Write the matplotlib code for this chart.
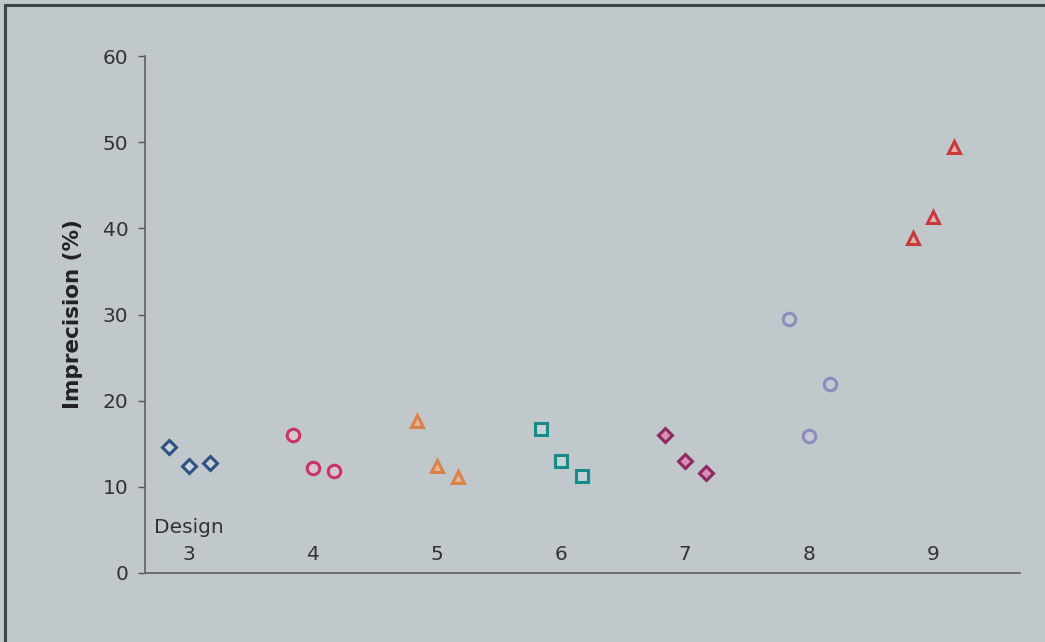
import matplotlib
matplotlib.use("Agg")
import matplotlib.pyplot as plt
from matplotlib.patches import Rectangle

plt.rcParams['font.family'] = ['DejaVu Sans']

designs = [3, 4, 5, 6, 7, 8, 9]
offsets = [-0.165, 0.0, 0.17]
imprecision = [
    [14.6, 12.4, 12.8],
    [16.0, 12.2, 11.8],
    [17.6, 12.4, 11.1],
    [16.7, 13.0, 11.3],
    [16.0, 13.0, 11.6],
    [29.5, 15.9, 21.9],
    [38.9, 41.3, 49.4],
]
markers = ['D', 'o', '^', 's', 'D', 'o', '^']
edge_colors = ['#2f5282', '#c93468', '#d9824a', '#178a8c', '#8c2a62', '#8a8eb8', '#c93a3c']
face_colors = ['#c9d3dc', '#d4c6cc', '#e6b48e', '#c2d4d6', '#d98fb4', '#c3c8d2', '#e3b4ae']
marker_sizes = [7, 9, 9, 8.5, 7, 9, 9]
y_ticks = [0, 10, 20, 30, 40, 50, 60]

bg = '#c0c8cc'
text_color = '#333333'
fig = plt.figure(figsize=(10.45, 6.42), dpi=100, facecolor=bg)
ax = fig.add_axes([145 / 1045, 1 - 573 / 642, (1020 - 145) / 1045, (573 - 56) / 642])
ax.set_facecolor(bg)

# outer chart frame (top and left edges)
fig.add_artist(Rectangle((5 / 1045, -0.1), 1.2, 1 - 5 / 642 + 0.1,
                         transform=fig.transFigure, fill=False,
                         edgecolor='#3c4448', linewidth=2.2))

for d, vals, m, ec, fc, ms in zip(designs, imprecision, markers, edge_colors, face_colors, marker_sizes):
    xs = [d + o for o in offsets]
    ax.plot(xs, vals, linestyle='none', marker=m, markersize=ms,
            markeredgecolor=ec, markerfacecolor=fc, markeredgewidth=2.2)
    ax.text(d, 2.2, str(d), ha='center', va='center', fontsize=14.5, color=text_color)

ax.text(designs[0], 5.3, 'Design', ha='center', va='center', fontsize=14.5, color=text_color)

ax.set_xlim(2.645, 9.70)
ax.set_ylim(0, 60)
ax.set_yticks(y_ticks)
ax.set_yticklabels([str(t) for t in y_ticks], fontsize=14.5, color=text_color)
ax.set_xticks([])
ax.tick_params(axis='y', direction='out', length=5, width=1, color='#555555', pad=7)
for s in ['top', 'right']:
    ax.spines[s].set_visible(False)
for s in ['left', 'bottom']:
    ax.spines[s].set_color('#5a6064')
    ax.spines[s].set_linewidth(1.2)

ax.set_ylabel('Imprecision (%)', fontsize=15.5, fontweight='bold', color='#222222', labelpad=14)

fig.savefig('out.png', dpi=100, facecolor=bg)
